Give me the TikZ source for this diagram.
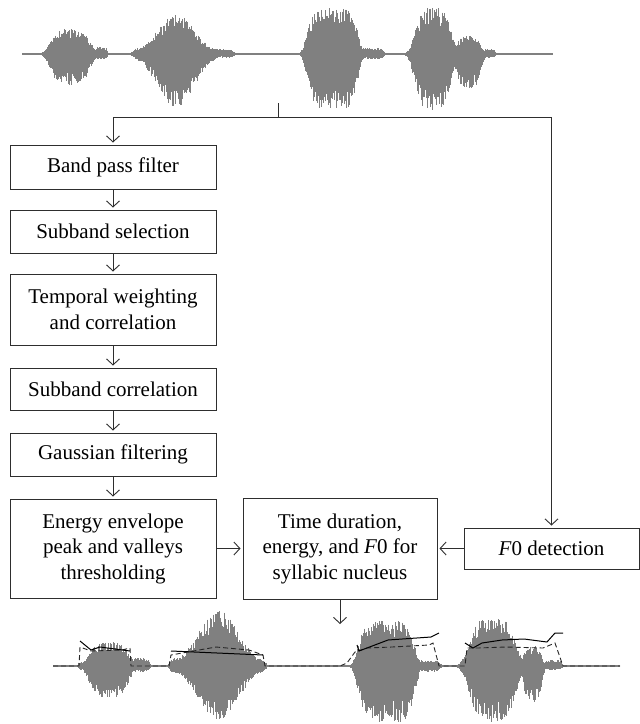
\documentclass[tikz,border=0pt]{standalone}
\usepackage{fontspec}
\setmainfont{Liberation Serif}
\usepackage{xcolor}
\definecolor{wavegray}{HTML}{808080}
\definecolor{linedark}{HTML}{2E2E2E}
\usepackage{tikz}
\usetikzlibrary{arrows.meta,positioning,calc}
\tikzset{
  procbox/.style={
    draw=linedark, fill=white, line width=1pt,
    minimum width=206pt, minimum height=#1,
    align=center, inner sep=2pt,
    font=\fontsize{21}{25.5}\selectfont
  },
  flowarr/.style={-{Straight Barb[length=6pt,width=13pt]}, draw=linedark,
                  line width=0.9pt, shorten >=2pt},
  flowline/.style={draw=linedark, line width=0.9pt},
  wavestroke/.style={draw=wavegray, line width=0.8pt},
  wavebase/.style={draw=wavegray, line width=1.1pt},
  envsolid/.style={draw=black, line width=1pt},
  envdashed/.style={draw=black!85, line width=0.9pt, dash pattern=on 5pt off 3pt}
}

\begin{document}
\begin{tikzpicture}[x=1pt, y=-1pt]
  \useasboundingbox (0,0) rectangle (640,724);
  \pgfmathsetseed{11}

  % input speech signal
  \draw[wavebase] (22,54) -- (553,54);
  \foreach \a/\b/\up/\dn/\p in {48/92/25/31/4, 94/108/7/6/6, 133/151/6/5/6,
      150/202/40/54/2, 200/235/5/4/6, 306/359/46/56/6, 359/385/6/5/6,
      413/453/46/56/4, 455/482/18/35/4, 482/496/5/4/6}{
    \pgfmathsetmacro\wa{\a-0.35*(\b-\a)}
    \pgfmathsetmacro\wb{\b+0.35*(\b-\a)}
    \pgfmathsetmacro\wn{\wa+0.6}
    \foreach \x in {\wa,\wn,...,\wb}{
      \pgfmathsetmacro\wu{min(abs((2*\x-\a-\b)/(\b-\a)),1.7)}
      \pgfmathsetmacro\we{exp(-(\wu^\p))}
      \pgfmathsetmacro\wt{\up*\we*(0.62+0.38*rnd)}
      \pgfmathsetmacro\wd{\dn*\we*(0.62+0.38*rnd)}
      \draw[wavestroke] (\x,54-\wt) -- (\x,54+\wd);
    }
  }

  % processing chain
  \node[procbox=44pt] (bpf)     at (113,167)   {Band pass filter};
  \node[procbox=43pt] (subsel)  at (113,231.5) {Subband selection};
  \node[procbox=71pt] (tempw)   at (113,309.5) {Temporal weighting\\and correlation};
  \node[procbox=42pt] (subcorr) at (113,389)   {Subband correlation};
  \node[procbox=43pt] (gauss)   at (113,454.5) {Gaussian filtering};
  \node[procbox=99pt] (envthr)  at (113,548.5)
    {Energy envelope\\peak and valleys\\thresholding};
  \node[procbox=101pt, minimum width=194pt] (nucleus) at (340,548.5)
    {Time duration,\\energy, and \textit{F}0 for\\syllabic nucleus};
  \node[procbox=41pt, minimum width=175pt] (fzero) at (551.5,548.5)
    {\textit{F}0 detection};

  \coordinate (sig)   at (278,103);
  \coordinate (split) at (278,117);
  \coordinate (out)   at (340,624);

  \draw[flowline] (sig) -- (split);
  \draw[flowarr] (split) -| (bpf.north);
  \draw[flowarr] (split) -| (fzero.north);
  \draw[flowarr] (bpf) -- (subsel);
  \draw[flowarr] (subsel) -- (tempw);
  \draw[flowarr] (tempw) -- (subcorr);
  \draw[flowarr] (subcorr) -- (gauss);
  \draw[flowarr] (gauss) -- (envthr);
  \draw[flowarr] (envthr) -- (nucleus);
  \draw[flowarr] (fzero) -- (nucleus);
  \draw[flowarr, shorten >=0pt] (nucleus) -- (out);

  % segmented nuclei with energy and F0 contours
  \draw[wavebase] (53,666) -- (620,666);
  \foreach \a/\b/\up/\dn/\p in {78/86/4/4/6, 87/131/24/32/4, 131/150/8/6/6,
      169/192/8/8/6, 190/247/56/54/2, 245/265/8/8/6, 357/416/46/57/6,
      416/441/6/6/6, 467/518/48/56/4, 522/543/20/36/4, 543/563/6/4/6}{
    \pgfmathsetmacro\wa{\a-0.35*(\b-\a)}
    \pgfmathsetmacro\wb{\b+0.35*(\b-\a)}
    \pgfmathsetmacro\wn{\wa+0.6}
    \foreach \x in {\wa,\wn,...,\wb}{
      \pgfmathsetmacro\wu{min(abs((2*\x-\a-\b)/(\b-\a)),1.7)}
      \pgfmathsetmacro\we{exp(-(\wu^\p))}
      \pgfmathsetmacro\wt{\up*\we*(0.62+0.38*rnd)}
      \pgfmathsetmacro\wd{\dn*\we*(0.62+0.38*rnd)}
      \draw[wavestroke] (\x,666-\wt) -- (\x,666+\wd);
    }
  }

  \draw[envdashed] (53,666) -- (79,666) -- (80,647) -- (91,651) -- (122,650)
    -- (130,648) -- (131,666) -- (169,666) -- (171,655) -- (216,647)
    -- (249,650) -- (263,655) -- (265,666) -- (340,666) -- (347,663)
    -- (355,652) -- (367,648) -- (392,647) -- (429,645) -- (433,643)
    -- (439,666) -- (465,666) -- (467,648) -- (478,648) -- (506,647)
    -- (543,648) -- (555,643) -- (563,666) -- (620,666);
  \draw[envsolid] (80,641) -- (91,650) -- (100,647) -- (130,651);
  \draw[envsolid] (171,651) -- (263,655);
  \draw[envsolid] (357,645) -- (359,651) -- (388,640) -- (431,637) -- (439,633);
  \draw[envsolid] (465,643) -- (473,648) -- (482,643) -- (502,640) -- (524,639)
    -- (547,642) -- (555,633) -- (563,633);
\end{tikzpicture}
\end{document}
